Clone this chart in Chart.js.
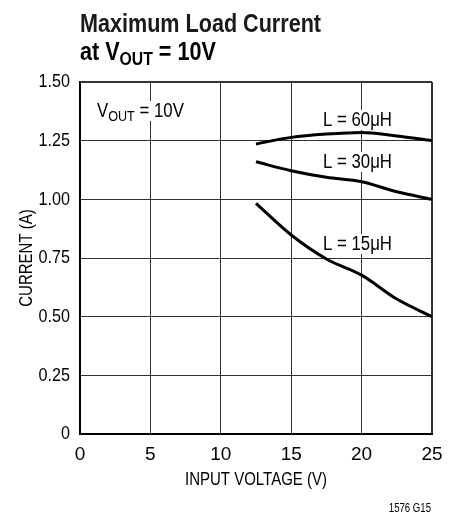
<!DOCTYPE html>
<html>
<head>
<meta charset="utf-8">
<script src="https://cdn.jsdelivr.net/npm/chart.js@4"></script>
<style>
  html, body { margin: 0; padding: 0; background: #fff; }
  #wrap { width: 458px; height: 518px; position: relative; }
</style>
</head>
<body>
<div id="wrap"><canvas id="G1" width="458" height="518"></canvas></div>
<script>
const FONT = "'Liberation Sans', Arial, sans-serif";
const SQ = 0.83; // squeeze to imitate a condensed face

// input voltage (V)
const vin = [12.5, 15, 17.5, 20, 22.5, 25];
// maximum load current (A) per inductor
const iL60 = [1.236, 1.264, 1.278, 1.285, 1.27, 1.25];
const iL30 = [1.16, 1.122, 1.094, 1.075, 1.032, 1.0];
const iL15 = [0.983, 0.848, 0.746, 0.677, 0.575, 0.5];
const seriesNames = ['L = 60μH', 'L = 30μH', 'L = 15μH'];

const xTicks = [0, 5, 10, 15, 20, 25];
const yTicks = [0, 0.25, 0.5, 0.75, 1.0, 1.25, 1.5];

function pts(ys) {
  return vin.map((x, i) => ({ x: x, y: ys[i] }));
}

function lineSet(name, ys) {
  return {
    label: name,
    data: pts(ys),
    borderColor: '#000',
    borderWidth: 3,
    pointRadius: 0,
    cubicInterpolationMode: 'monotone',
    fill: false
  };
}

// squeezed text, returns drawn width
function sq(ctx, text, x, y, k) {
  k = k || SQ;
  ctx.save();
  ctx.translate(x, y);
  ctx.scale(k, 1);
  ctx.textAlign = 'left';
  ctx.fillText(text, 0, 0);
  ctx.restore();
  return ctx.measureText(text).width * k;
}

// text pieces (for subscripts), optional white box behind
function label(ctx, parts, x, y, k, box) {
  let w = 0;
  parts.forEach(p => { ctx.font = p.font; w += ctx.measureText(p.t).width * k; });
  if (box) {
    ctx.fillStyle = '#fff';
    ctx.fillRect(x - 2, y - 16, w + 4, 20);
  }
  ctx.fillStyle = '#000';
  let cx = x;
  parts.forEach(p => {
    ctx.font = p.font;
    cx += sq(ctx, p.t, cx, y + (p.dy || 0), k);
  });
  return w;
}

// squeeze the y tick labels around their right edge
const squeezeY = {
  id: 'squeezeY',
  afterLayout(chart) {
    const s = chart.scales.y;
    if (s._sqPatched) return;
    const orig = s.drawLabels.bind(s);
    s.drawLabels = function (area) {
      const ctx = this.ctx;
      const ax = this.right - this.options.ticks.padding;
      ctx.save();
      ctx.translate(ax, 0);
      ctx.scale(0.85, 1);
      ctx.translate(-ax, 0);
      orig(area);
      ctx.restore();
    };
    s._sqPatched = true;
  }
};

const textPlugin = {
  id: 'texts',
  afterDraw(chart) {
    const ctx = chart.ctx;
    const area = chart.chartArea;
    ctx.save();
    ctx.textBaseline = 'alphabetic';

    // title
    ctx.fillStyle = '#1a1a1a';
    const tb = 'bold 26px ' + FONT;
    ctx.font = tb;
    sq(ctx, 'Maximum Load Current', 80, 32);
    label(ctx, [
      { t: 'at V', font: tb },
      { t: 'OUT', font: 'bold 19px ' + FONT, dy: 5 },
      { t: ' = 10V', font: tb }
    ], 80, 60, SQ, false);

    // in-plot labels
    const f = '20px ' + FONT;
    const fs = '15px ' + FONT;
    label(ctx, [{ t: 'V', font: f }, { t: 'OUT', font: fs, dy: 4 }, { t: ' = 10V', font: f }], 97, 117, 0.84, true);
    label(ctx, [{ t: seriesNames[0], font: f }], 323, 126, 0.84, true);
    label(ctx, [{ t: seriesNames[1], font: f }], 323, 168, 0.84, true);
    label(ctx, [{ t: seriesNames[2], font: f }], 323, 250, 0.84, true);

    // axis titles
    ctx.fillStyle = '#000';
    ctx.font = '19px ' + FONT;
    const xt = 'INPUT VOLTAGE (V)';
    const xw = ctx.measureText(xt).width * 0.79;
    sq(ctx, xt, (area.left + area.right) / 2 - xw / 2, 485, 0.79);
    const yt = 'CURRENT (A)';
    const yw = ctx.measureText(yt).width * 0.79;
    ctx.save();
    ctx.translate(32, (area.top + area.bottom) / 2);
    ctx.rotate(-Math.PI / 2);
    sq(ctx, yt, -yw / 2, 0, 0.79);
    ctx.restore();

    ctx.font = '12px ' + FONT;
    const nw = ctx.measureText('1576 G15').width * 0.8;
    sq(ctx, '1576 G15', 431 - nw, 512, 0.8);
    ctx.restore();
  }
};

new Chart(document.getElementById('G1'), {
  type: 'line',
  data: {
    datasets: [lineSet(seriesNames[0], iL60), lineSet(seriesNames[1], iL30), lineSet(seriesNames[2], iL15)]
  },
  options: {
    responsive: false,
    animation: false,
    layout: { padding: { left: 0, right: 26, top: 82, bottom: 0 } },
    plugins: { legend: { display: false }, tooltip: { enabled: false }, title: { display: false } },
    scales: {
      x: {
        type: 'linear',
        min: 0, max: 25,
        afterBuildTicks: s => { s.ticks = xTicks.map(v => ({ value: v })); },
        afterFit: s => { s.height = 84; },
        grid: {
          color: '#333',
          lineWidth: c => (c.tick && c.tick.value === 25 ? 2 : 1),
          drawTicks: false
        },
        border: { color: '#000', width: 2 },
        ticks: { color: '#000', padding: 9, font: { family: FONT, size: 19 }, maxRotation: 0 }
      },
      y: {
        type: 'linear',
        min: 0, max: 1.5,
        afterBuildTicks: s => { s.ticks = yTicks.map(v => ({ value: v })); },
        afterFit: s => { s.width = 80; },
        grid: {
          color: '#333',
          lineWidth: c => (c.tick && c.tick.value === 1.5 ? 2 : 1),
          drawTicks: false
        },
        border: { color: '#000', width: 2 },
        ticks: {
          color: '#000', padding: 10, font: { family: FONT, size: 19 },
          callback: v => (v === 0 ? '0' : v.toFixed(2))
        }
      }
    }
  },
  plugins: [squeezeY, textPlugin]
});
</script>
</body>
</html>
